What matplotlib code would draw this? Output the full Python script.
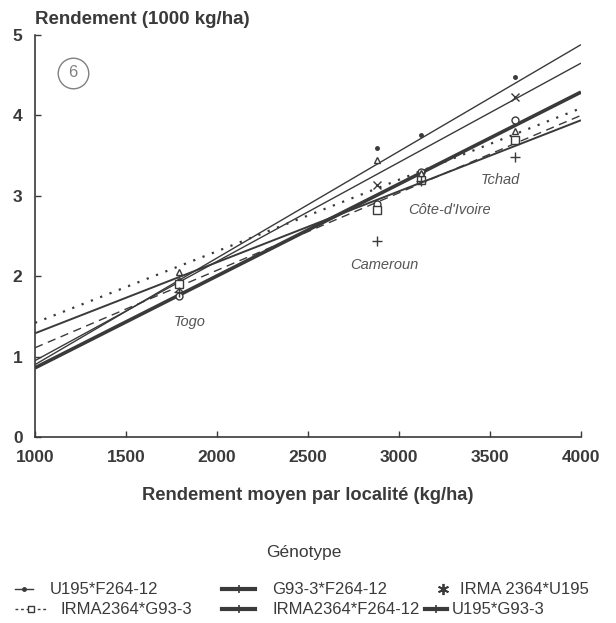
import matplotlib.pyplot as plt
from matplotlib.lines import Line2D
import numpy as np

plt.rcParams['font.family'] = ['Liberation Sans', 'DejaVu Sans']

INK = '#3a3a3a'
W, H = 616, 623

# mean yield per location (kg/ha) and the four sites
sites = ['Togo', 'Cameroun', "Côte-d'Ivoire", 'Tchad']
site_x = [1790, 2880, 3120, 3640]

genotypes = ['U195*F264-12', 'G93-3*F264-12', 'IRMA 2364*U195',
             'IRMA2364*G93-3', 'IRMA2364*F264-12', 'U195*G93-3']

# observed yields (1000 kg/ha) per genotype at each site
y_u195_f264 = [1.95, 3.59, 3.76, 4.48]
y_g93_f264 = [1.75, 2.90, 3.30, 3.94]
y_irma_u195 = [1.85, 3.13, 3.26, 4.23]
y_irma_g93 = [1.90, 2.82, 3.20, 3.69]
y_irma_f264 = [2.05, 3.44, 3.28, 3.80]
y_u195_g93 = [1.80, 2.44, 3.18, 3.48]

# regression lines, value at 1000 and at 4000 kg/ha
fit_lo = [0.90, 0.86, 0.95, 1.11, 1.42, 1.29]
fit_hi = [4.88, 4.29, 4.65, 4.00, 4.09, 3.94]

yields = [y_u195_f264, y_g93_f264, y_irma_u195,
          y_irma_g93, y_irma_f264, y_u195_g93]

styles = [
    dict(ls='-', lw=1.0, marker='.', ms=5, mfc=INK),
    dict(ls='-', lw=2.6, marker='o', ms=5, mfc='white'),
    dict(ls='-', lw=1.0, marker='x', ms=6, mfc=INK),
    dict(ls=(0, (6, 4)), lw=1.0, marker='s', ms=6, mfc='white'),
    dict(ls=(0, (1, 3.5)), lw=1.6, marker='^', ms=5, mfc='white'),
    dict(ls='-', lw=1.4, marker='+', ms=7, mfc=INK),
]

fig = plt.figure(figsize=(W / 100, H / 100), dpi=100)
ax = fig.add_axes([35 / W, 1 - 437 / H, 546 / W, 402 / H])

xfit = np.array([1000, 4000])
for lo, hi, ys, st in zip(fit_lo, fit_hi, yields, styles):
    ax.plot(xfit, [lo, hi], color=INK, ls=st['ls'], lw=st['lw'],
            solid_capstyle='butt')
    ax.plot(site_x, ys, ls='none', marker=st['marker'], ms=st['ms'],
            mfc=st['mfc'], mec=INK, mew=1.0, color=INK)

# site names
site_pos = [(1850, 1.43), (2920, 2.14), (3280, 2.82), (3555, 3.2)]
for name, (sx, sy) in zip(sites, site_pos):
    ax.text(sx, sy, name, style='italic', fontsize=10.5, color='#555555',
            ha='center', va='center')

# panel number
ax.plot([1209], [4.53], marker='o', ms=22, mfc='none', mec='#808080', mew=1.0)
ax.text(1209, 4.53, '6', ha='center', va='center', fontsize=12,
        color='#808080')

ax.set_xlim(1000, 4000)
ax.set_ylim(0, 5)
ax.set_xticks([1000, 1500, 2000, 2500, 3000, 3500, 4000])
ax.set_yticks([0, 1, 2, 3, 4, 5])
ax.tick_params(direction='in', length=4, width=1, colors=INK,
               labelsize=12.5, pad=9)
for lab in ax.get_xticklabels() + ax.get_yticklabels():
    lab.set_fontweight('bold')
for side in ['top', 'right']:
    ax.spines[side].set_visible(False)
for side in ['left', 'bottom']:
    ax.spines[side].set_color(INK)
    ax.spines[side].set_linewidth(1.2)

fig.text(35 / W, 1 - 20 / H, 'Rendement (1000 kg/ha)', fontsize=13.5,
         fontweight='bold', color=INK, ha='left', va='center')
fig.text(308 / W, 1 - 495 / H, 'Rendement moyen par localité (kg/ha)',
         fontsize=13.2, fontweight='bold', color=INK, ha='center', va='center')

# legend, laid out by hand in pixel positions
fig.text(304 / W, 1 - 552 / H, 'Génotype', fontsize=12.5, color=INK,
         ha='center', va='center')


def key(x0, x1, y, text_x, label, **kw):
    yy = 1 - y / H
    xs = [x0 / W, (x0 + x1) / 2 / W, x1 / W]
    fig.add_artist(Line2D(xs, [yy] * 3, color=INK, markevery=[1], **kw))
    fig.text(text_x / W, yy, label, fontsize=12, color=INK,
             ha='left', va='center')


thick = dict(lw=3, marker='|', ms=6, mew=1.2)
key(15, 33, 589, 50, genotypes[0], lw=1.0, marker='.', ms=5)
key(222, 255, 589, 272, genotypes[1], **thick)
key(438, 448, 589, 460, genotypes[2], ls='none', marker=(6, 2, 0), ms=8,
    mew=1.3)
key(15, 47, 609, 60, genotypes[3], lw=1.0, ls=(0, (2, 2)), marker='s',
    ms=5, mfc='white')
key(222, 255, 609, 272, genotypes[4], **thick)
key(425, 447, 609, 452, genotypes[5], **thick)

fig.savefig('out.png', dpi=100)
